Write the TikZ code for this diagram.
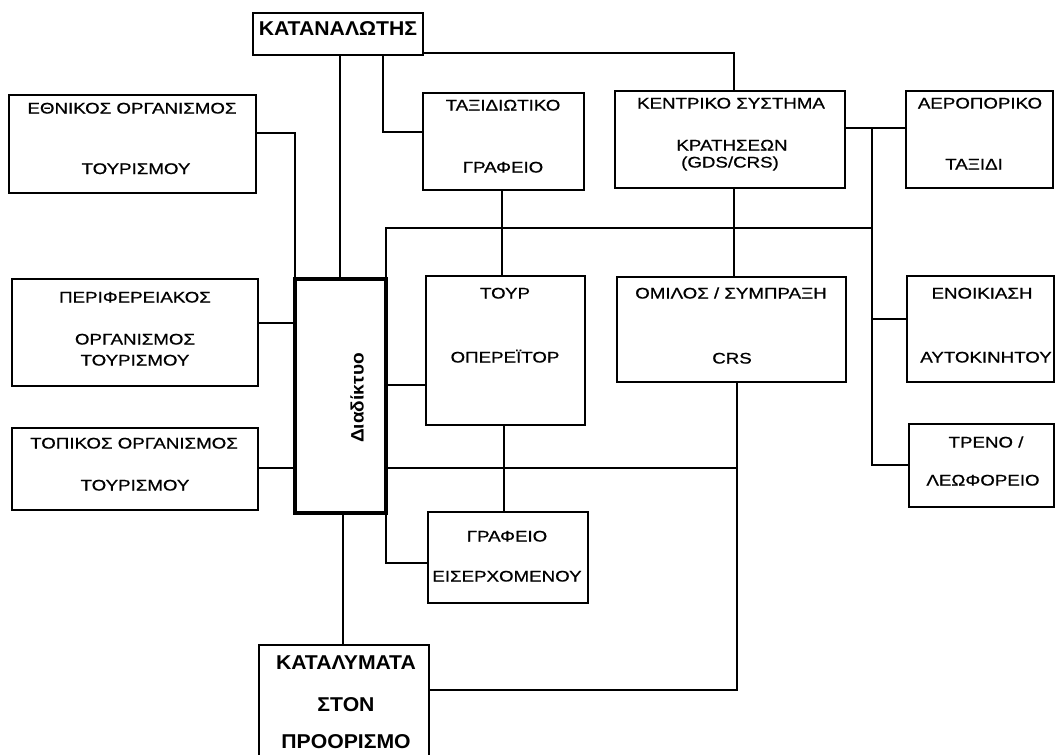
\documentclass[tikz,border=0pt]{standalone}
\usepackage{fontspec}
\setmainfont{Liberation Sans}[FakeStretch=1.22,FakeBold=0.8]
\newfontfamily\boldfam{Liberation Sans}[FakeStretch=1.06]
\usetikzlibrary{fit}
\begin{document}
\begin{tikzpicture}[x=0.75pt,y=-0.75pt,
  box/.style={draw, line width=1.4pt, inner sep=0pt, outer sep=0pt},
  thickbox/.style={draw, line width=3pt, inner sep=0pt, outer sep=0pt},
  conn/.style={draw, line width=1.4pt, line join=miter},
  txt/.style={inner sep=0pt, anchor=base, font=\fontsize{11.5}{13}\selectfont},
  btxt/.style={inner sep=0pt, anchor=base, font=\boldfam\bfseries\fontsize{15}{17}\selectfont}]
\useasboundingbox (0,0) rectangle (1055,754);
\clip (0,0) rectangle (1055,754);
% boxes
\node[box, fit={(253,13)(423,55)}] (kat) {};
\node[box, fit={(9,95)(256,193)}] (ethnikos) {};
\node[box, fit={(12,279)(258,386)}] (perif) {};
\node[box, fit={(12,428)(258,510)}] (topikos) {};
\node[thickbox, fit={(295,279)(386,513)}] (diad) {};
\node[box, fit={(423,93)(584,190)}] (tax) {};
\node[box, fit={(615,91)(845,188)}] (kentriko) {};
\node[box, fit={(906,91)(1053,188)}] (aero) {};
\node[box, fit={(426,276)(585,425)}] (tour) {};
\node[box, fit={(617,277)(846,382)}] (omilos) {};
\node[box, fit={(907,276)(1054,382)}] (enoik) {};
\node[box, fit={(909,424)(1054,507)}] (treno) {};
\node[box, fit={(428,512)(588,603)}] (graf) {};
\node[box, fit={(259,645)(429,770)}] (katal) {};
% texts
\node[btxt] (tkat) at (338,35) {ΚΑΤΑΝΑΛΩΤΗΣ};
\node[txt] (te1) at (132,113.5) {ΕΘΝΙΚΟΣ ΟΡΓΑΝΙΣΜΟΣ};
\node[txt] (te2) at (136,174) {ΤΟΥΡΙΣΜΟΥ};
\node[txt] (tp1) at (135,302.5) {ΠΕΡΙΦΕΡΕΙΑΚΟΣ};
\node[txt] (tp2) at (135,344.5) {ΟΡΓΑΝΙΣΜΟΣ};
\node[txt] (tp3) at (135,365.5) {ΤΟΥΡΙΣΜΟΥ};
\node[txt] (tt1) at (134,448.5) {ΤΟΠΙΚΟΣ ΟΡΓΑΝΙΣΜΟΣ};
\node[txt] (tt2) at (135,490.5) {ΤΟΥΡΙΣΜΟΥ};
\node[inner sep=0pt, rotate=90, font=\boldfam\bfseries\fontsize{13.5}{15}\selectfont] (tdiad) at (357,398) {Διαδίκτυο};
\node[txt] (tx1) at (503,110.5) {ΤΑΞΙΔΙΩΤΙΚΟ};
\node[txt] (tx2) at (503,172.5) {ΓΡΑΦΕΙΟ};
\node[txt] (tk1) at (731,108.5) {ΚΕΝΤΡΙΚΟ ΣΥΣΤΗΜΑ};
\node[txt] (tk2) at (732,150.5) {ΚΡΑΤΗΣΕΩΝ};
\node[txt] (tk3) at (730,167.5) {(GDS/CRS)};
\node[txt] (ta1) at (980,108.5) {ΑΕΡΟΠΟΡΙΚΟ};
\node[txt] (ta2) at (974,169.5) {ΤΑΞΙΔΙ};
\node[txt] (to1) at (505,298.5) {ΤΟΥΡ};
\node[txt] (to2) at (505,362.5) {ΟΠΕΡΕΪΤΟΡ};
\node[txt] (tm1) at (731,298.5) {ΟΜΙΛΟΣ / ΣΥΜΠΡΑΞΗ};
\node[txt] (tm2) at (732,363.5) {CRS};
\node[txt] (tn1) at (982,298.5) {ΕΝΟΙΚΙΑΣΗ};
\node[txt] (tn2) at (986,362.5) {ΑΥΤΟΚΙΝΗΤΟΥ};
\node[txt] (tr1) at (986,447.5) {ΤΡΕΝΟ /};
\node[txt] (tr2) at (983,485.5) {ΛΕΩΦΟΡΕΙΟ};
\node[txt] (tg1) at (507,541.5) {ΓΡΑΦΕΙΟ};
\node[txt] (tg2) at (507,581.5) {ΕΙΣΕΡΧΟΜΕΝΟΥ};
\node[btxt] (tl1) at (346,669) {ΚΑΤΑΛΥΜΑΤΑ};
\node[btxt] (tl2) at (346,711) {ΣΤΟΝ};
\node[btxt] (tl3) at (346,748) {ΠΡΟΟΡΙΣΜΟ};
% helper coordinates
\coordinate (yk) at (0,53);
\coordinate (xt) at (383,0);
\coordinate (yt) at (0,132);
\coordinate (jr) at (872,128);
\coordinate (yb1) at (0,228);
\coordinate (ye) at (0,133);
\coordinate (yp) at (0,323);
\coordinate (yb2) at (0,468);
\coordinate (yto) at (0,385);
\coordinate (xk) at (734,0);
\coordinate (xo) at (737,0);
\coordinate (ygr) at (0,563);
\coordinate (ykat) at (0,690);
\coordinate (yen) at (0,319);
\coordinate (ytr) at (0,465);
\coordinate (xd) at (340,0);
\coordinate (xdk) at (343,0);
\coordinate (xtx) at (502,0);
\coordinate (xtg) at (504,0);
% connectors
\draw[conn] (kat.east |- yk) -| (kentriko.north -| xk);
\draw[conn] (kat.south -| xd) -- (diad.north -| xd);
\draw[conn] (kat.south -| xt) |- (tax.west |- yt);
\draw[conn] (tax.south -| xtx) -- (tour.north -| xtx);
\draw[conn] (diad.north east) |- (jr |- yb1);
\draw[conn] (kentriko.east |- jr) -- (aero.west |- jr);
\draw[conn] (jr) |- (enoik.west |- yen);
\draw[conn] (jr) |- (treno.west |- ytr);
\draw[conn] (kentriko.south -| xk) -- (omilos.north -| xk);
\draw[conn] (ethnikos.east |- ye) -| (diad.north west);
\draw[conn] (perif.east |- yp) -- (diad.west |- yp);
\draw[conn] (topikos.east |- yb2) -- (diad.west |- yb2);
\draw[conn] (diad.east |- yto) -- (tour.west |- yto);
\draw[conn] (diad.east |- yb2) -- (xo |- yb2);
\draw[conn] (omilos.south -| xo) |- (katal.east |- ykat);
\draw[conn] (tour.south -| xtg) -- (graf.north -| xtg);
\draw[conn] (diad.south east) |- (graf.west |- ygr);
\draw[conn] (diad.south -| xdk) -- (katal.north -| xdk);
\end{tikzpicture}
\end{document}
